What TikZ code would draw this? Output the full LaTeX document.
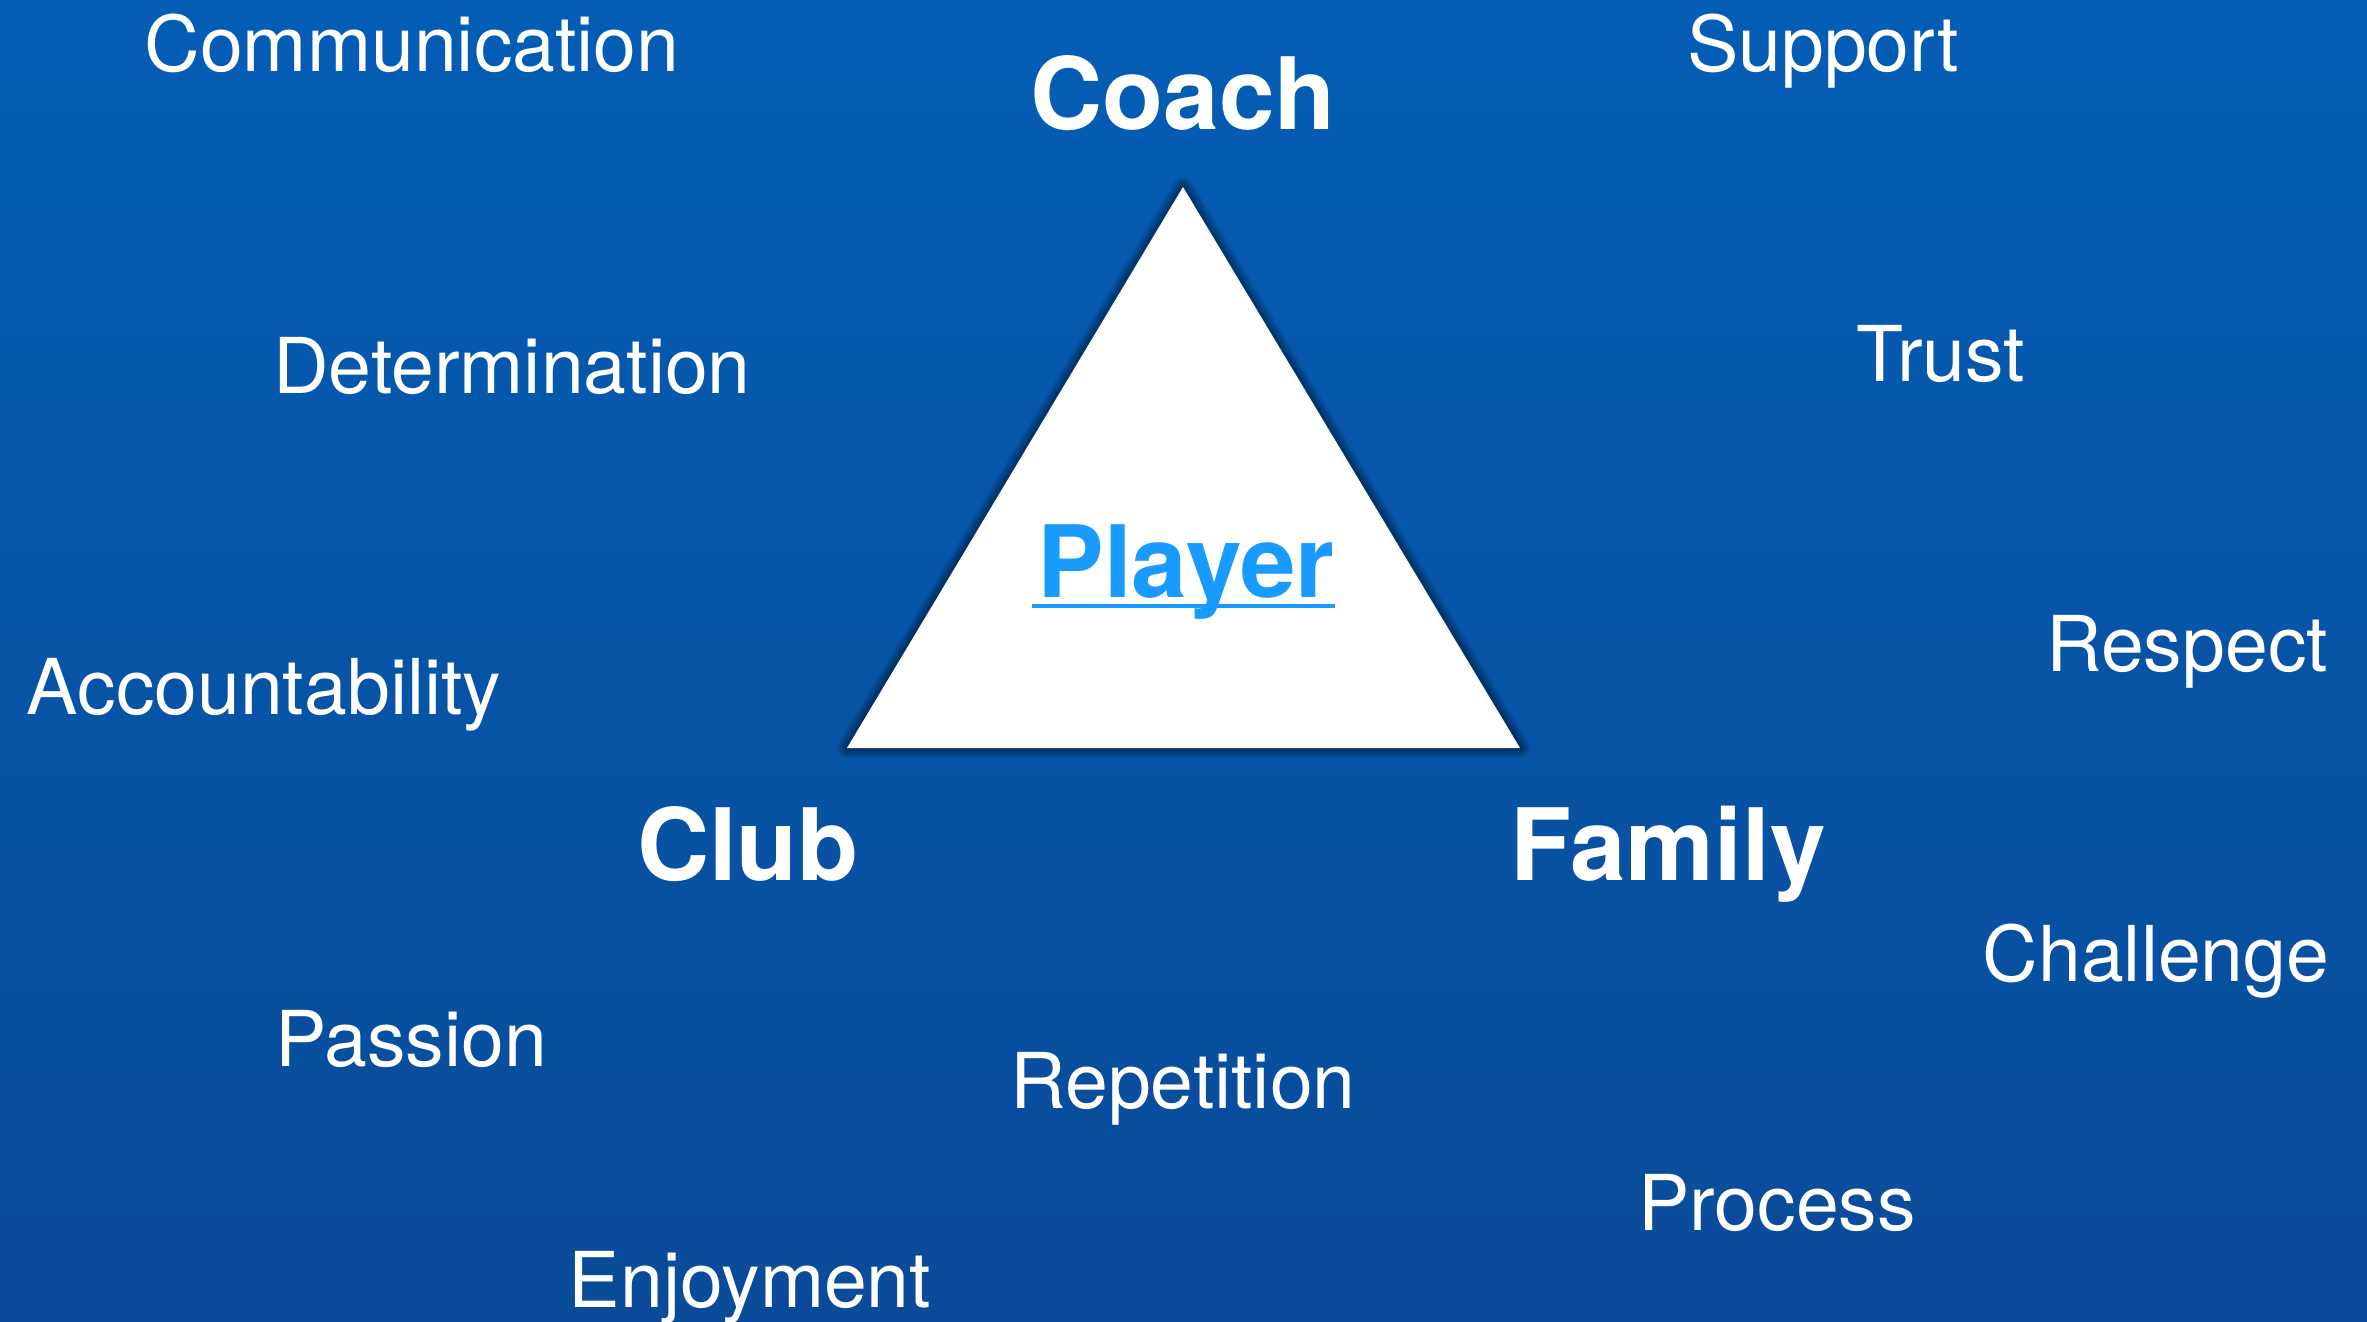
\documentclass[tikz,border=0pt]{standalone}
\usepackage{fontspec}
\setmainfont{TeX Gyre Heros}
\definecolor{bgtop}{RGB}{4,93,181}
\definecolor{bgbot}{RGB}{10,75,153}
\definecolor{playerblue}{RGB}{24,154,255}
\begin{document}
\begin{tikzpicture}[x=0.01cm,y=-0.01cm,
  word/.style={text=white,inner sep=0pt,anchor=base,font=\fontsize{21.9pt}{26pt}\selectfont},
  bigword/.style={text=white,inner sep=0pt,anchor=base,font=\fontsize{28.4pt}{34pt}\selectfont\bfseries}]
\useasboundingbox (0,0) rectangle (2367,1322);
\shade[top color=bgtop,bottom color=bgbot] (0,0) rectangle (2367,1322);
% triangle shadow
\coordinate (apex) at (1183,187);
\coordinate (bl) at (847,748);
\coordinate (br) at (1520,748);
\foreach \w in {2,5,8,11,14,17,20}{
  \draw[black,opacity=0.07,line width=\w*0.01cm,line join=round,shift={(0,4)}] (apex) -- (bl) -- (br) -- cycle;
}
\fill[white] (apex) -- (bl) -- (br) -- cycle;
% words
\node[word] (communication) at (412,72) {Communication};
\node[word] (support) at (1823,72) {Support};
\node[word] (determination) at (512,394) {Determination};
\node[word] (trust) at (1941,382) {Trust};
\node[word] (respect) at (2187,672) {Respect};
\node[word] (accountability) at (264,714) {Accountability};
\node[word] (challenge) at (2156,981) {Challenge};
\node[word] (passion) at (411,1066) {Passion};
\node[word] (repetition) at (1183,1108) {Repetition};
\node[word] (process) at (1777,1230) {Process};
\node[word] (enjoyment) at (750,1307) {Enjoyment};
% main labels
\node[bigword] (coach) at (1183,130) {Coach};
\node[bigword] (club) at (748,880) {Club};
\node[bigword] (family) at (1668,880) {Family};
\node[bigword,text=playerblue] (player) at (1186,598) {Player};
\draw[playerblue,line width=0.04cm] (1032,606) -- (1335,606);
\end{tikzpicture}
\end{document}
